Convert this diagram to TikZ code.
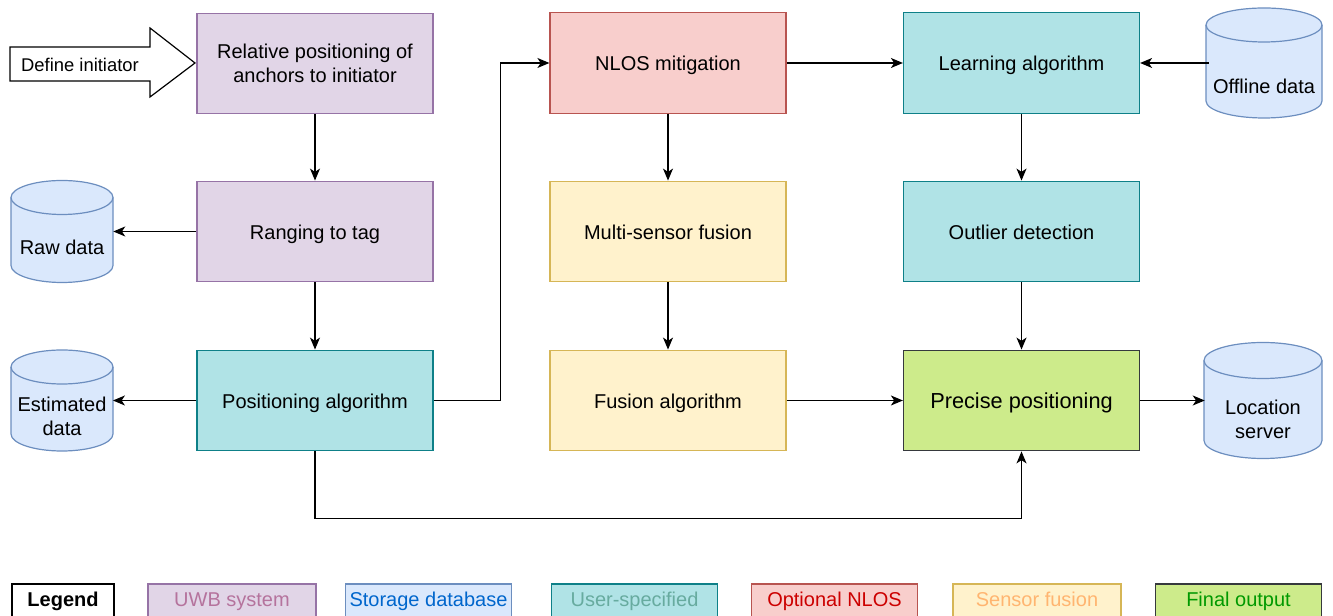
\documentclass[tikz,border=0pt]{standalone}
\usepackage{fontspec}
\setmainfont{Liberation Sans}
\usetikzlibrary{arrows.meta}
\definecolor{uwbfill}{HTML}{E1D5E7}
\definecolor{uwbline}{HTML}{9673A6}
\definecolor{uwbtext}{HTML}{B5739D}
\definecolor{dbfill}{HTML}{DAE8FC}
\definecolor{dbline}{HTML}{6C8EBF}
\definecolor{dbtext}{HTML}{0066CC}
\definecolor{userfill}{HTML}{B0E3E6}
\definecolor{userline}{HTML}{0E8088}
\definecolor{usertext}{HTML}{67AB9F}
\definecolor{nlosfill}{HTML}{F8CECC}
\definecolor{nlosline}{HTML}{B85450}
\definecolor{nlostext}{HTML}{CC0000}
\definecolor{fusefill}{HTML}{FFF2CC}
\definecolor{fuseline}{HTML}{D6B656}
\definecolor{fusetext}{HTML}{FFB570}
\definecolor{outfill}{HTML}{CDEB8B}
\definecolor{outline}{HTML}{36393D}
\definecolor{outtext}{HTML}{009900}
\newcommand{\drum}[5]{%
\filldraw[fill=dbfill,draw=dbline,line width=0.9pt] (#1-#3,#2+#4-#5) -- (#1-#3,#2-#4+#5) arc (180:360:#3 and #5) -- (#1+#3,#2+#4-#5) arc (0:180:#3 and #5) -- cycle;
\draw[dbline,line width=0.9pt] (#1-#3,#2+#4-#5) arc (180:360:#3 and #5);
}
\begin{document}
\begin{tikzpicture}[x=0.75pt,y=0.75pt,
  font=\fontsize{15}{18}\selectfont,
  box/.style={draw,line width=0.9pt,minimum width=177pt,minimum height=75.5pt,align=center,text height=15pt,text depth=3pt},
  uwb/.style={box,fill=uwbfill,draw=uwbline},
  user/.style={box,fill=userfill,draw=userline},
  nlos/.style={box,fill=nlosfill,draw=nlosline},
  fuse/.style={box,fill=fusefill,draw=fuseline},
  final/.style={box,fill=outfill,draw=outline,font=\fontsize{16.3}{19}\selectfont},
  dbnode/.style={minimum width=#1,minimum height=#1,inner sep=0pt},
  legbox/.style={draw,line width=0.9pt,minimum height=25.5pt,inner sep=0pt,text height=12pt,text depth=3pt},
  conn/.style={line width=0.9pt,-{Stealth[length=9pt,width=7.5pt,inset=2.5pt]}}]
\useasboundingbox (0,0) rectangle (1333,616);
\clip (0,0) rectangle (1333,616);
\filldraw[fill=white,draw=black,line width=0.9pt] (10,569) -- (150,569) -- (150,588) -- (195,553) -- (150,519) -- (150,535) -- (10,535) -- cycle;
\node[font=\fontsize{13.8}{16}\selectfont] (define) at (80,551) {Define initiator};
\node[uwb,text height={},text depth={}] (relpos) at (315,552.5) {Relative positioning of\\anchors to initiator};
\node[uwb] (ranging) at (315,384.5) {Ranging to tag};
\node[user] (posalg) at (315,215.5) {Positioning algorithm};
\node[nlos] (nlosmit) at (668,553) {NLOS mitigation};
\node[fuse] (multi) at (668,384.5) {Multi-sensor fusion};
\node[fuse] (fusion) at (668,215.5) {Fusion algorithm};
\node[user] (learning) at (1021.5,553) {Learning algorithm};
\node[user] (outlier) at (1021.5,384.5) {Outlier detection};
\node[final] (precise) at (1021.5,215.5) {Precise positioning};
\drum{62}{384.5}{51}{51}{17}
\node[dbnode=76.5pt] (raw) at (62,384.5) {};
\node (rawtext) at (62,369) {Raw data};
\drum{62}{215.5}{51}{50.5}{17}
\node[dbnode=76pt] (estimated) at (62,215.5) {};
\node[align=center] (esttext) at (62,200) {Estimated\\data};
\drum{1264}{553}{58}{55}{17}
\node[dbnode=82.5pt] (offline) at (1264,553) {};
\node (offtext) at (1264,530) {Offline data};
\drum{1263}{215.5}{59}{58}{18}
\node[dbnode=87pt] (location) at (1263,215.5) {};
\node[align=center] (loctext) at (1263,197) {Location\\server};
\draw[conn] (relpos.south) -- (ranging.north);
\draw[conn] (ranging.west) -- (raw.east);
\draw[conn] (ranging.south) -- (posalg.north);
\draw[conn] (posalg.west) -- (estimated.east);
\draw[conn] (posalg.east) -- ++(67,0) |- (nlosmit.west);
\draw[conn] (posalg.south) -- ++(0,-67) -| (precise.south);
\draw[conn] (nlosmit.south) -- (multi.north);
\draw[conn] (multi.south) -- (fusion.north);
\draw[conn] (fusion.east) -- (precise.west);
\draw[conn] (nlosmit.east) -- (learning.west);
\draw[conn] (offline.west) -- (learning.east);
\draw[conn] (learning.south) -- (outlier.north);
\draw[conn] (outlier.south) -- (precise.north);
\draw[conn] (precise.east) -- (location.west);
\node[legbox,fill=white,draw=black,minimum width=76.5pt,font=\fontsize{15}{18}\selectfont\bfseries] (legend) at (63,15) {Legend};
\node[legbox,fill=uwbfill,draw=uwbline,text=uwbtext,minimum width=126pt] (leguwb) at (232,15) {UWB system};
\node[legbox,fill=dbfill,draw=dbline,text=dbtext,minimum width=124pt] (legdb) at (428.5,15) {Storage database};
\node[legbox,fill=userfill,draw=userline,text=usertext,minimum width=125pt] (leguser) at (634.5,15) {User-specified};
\node[legbox,fill=nlosfill,draw=nlosline,text=nlostext,minimum width=125pt] (legnlos) at (834.5,15) {Optional NLOS};
\node[legbox,fill=fusefill,draw=fuseline,text=fusetext,minimum width=126pt] (legfuse) at (1037,15) {Sensor fusion};
\node[legbox,fill=outfill,draw=outline,text=outtext,minimum width=125pt] (legout) at (1238.5,15) {Final output};
\end{tikzpicture}
\end{document}
